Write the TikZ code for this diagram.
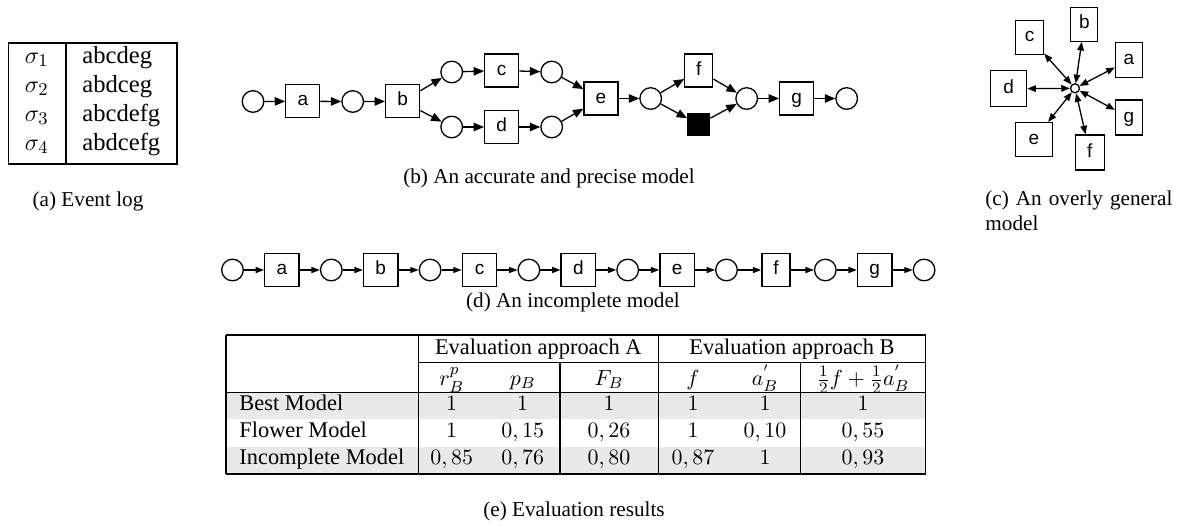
\documentclass[tikz,border=0pt]{standalone}
\usepackage{fontspec}
\setmainfont{Liberation Serif}
\newfontfamily\lsans{Liberation Sans}
\usetikzlibrary{arrows.meta}
\definecolor{rowgray}{RGB}{233,233,233}
\begin{document}
\begin{tikzpicture}[x=0.5pt,y=-0.5pt,
  place/.style={draw,circle,line width=0.65pt,minimum size=10.8pt,inner sep=0pt},
  trans/.style={draw,rectangle,line width=0.65pt,minimum width=17pt,minimum height=16.5pt,inner sep=0pt,
    text height=1ex,text depth=0pt,font=\lsans\fontsize{9.5}{10}\selectfont},
  silent/.style={draw,fill=black,rectangle,line width=0.65pt,minimum width=11pt,minimum height=11pt,inner sep=0pt},
  hub/.style={draw,circle,line width=0.65pt,minimum size=4.5pt,inner sep=0pt},
  arrb/.style={-{Triangle[length=5.2pt,width=4.2pt]},line width=0.65pt},
  arrd/.style={-{Triangle[length=4.2pt,width=3pt]},line width=0.65pt},
  arrc/.style={{Triangle[length=4.3pt,width=3.3pt]}-{Triangle[length=4.3pt,width=3.3pt]},line width=0.65pt},
  captxt/.style={inner sep=0pt,anchor=base,font=\fontsize{10.6}{12.7}\selectfont},
  logtxt/.style={inner sep=0pt,font=\fontsize{12.3}{14}\selectfont},
  tabtxt/.style={inner sep=0pt,anchor=base,font=\fontsize{11.2}{13}\selectfont},
  tabrule/.style={line width=0.6pt}
]
\useasboundingbox (0,0) rectangle (1178,525);

% ---------------- (a) Event log ----------------
\draw[tabrule] (8.3,43) rectangle (177,164);
\draw[tabrule] (66,43) -- (66,164);
\foreach \i/\yy/\tr in {1/63.3/abcdeg,2/92/abdceg,3/121/abcdefg,4/150/abdcefg}{
  \node[logtxt,anchor=base] (s\i) at (36.7,\yy) {$\sigma_\i$};
  \node[logtxt,anchor=base west] (t\i) at (82,\yy) {\tr};
}
\node[captxt] (capa) at (88,206) {(a) Event log};

% ---------------- (b) accurate model ----------------
\node[place] (bp0) at (253,101.5) {};
\node[trans] (ba) at (302.8,101.3) {a};
\node[place] (bp1) at (352.7,101.5) {};
\node[trans] (bb) at (402.7,101.3) {b};
\node[place] (bpu1) at (451.7,72) {};
\node[place] (bpl1) at (451.7,127) {};
\node[trans] (bc) at (501.7,70.5) {c};
\node[trans] (bd) at (501.7,127) {d};
\node[place] (bpu2) at (551.7,72) {};
\node[place] (bpl2) at (551.7,127) {};
\node[trans] (be) at (601,98.5) {e};
\node[place] (bp5) at (650.7,98.5) {};
\node[trans,minimum width=14pt] (bf) at (698.8,70.5) {f};
\node[silent] (btau) at (698.7,124.5) {};
\node[place] (bp6) at (746.7,98.5) {};
\node[trans] (bg) at (796.7,98.5) {g};
\node[place] (bp7) at (846.7,98.5) {};
\draw[arrb] (bp0) -- (ba);
\draw[arrb] (ba) -- (bp1);
\draw[arrb] (bp1) -- (bb);
\draw[arrb] (bb) -- (bpu1);
\draw[arrb] (bb) -- (bpl1);
\draw[arrb] (bpu1) -- (bc);
\draw[arrb] (bpl1) -- (bd);
\draw[arrb] (bc) -- (bpu2);
\draw[arrb] (bd) -- (bpl2);
\draw[arrb] (bpu2) -- (be);
\draw[arrb] (bpl2) -- (be);
\draw[arrb] (be) -- (bp5);
\draw[arrb] (bp5) -- (bf);
\draw[arrb] (bp5) -- (btau);
\draw[arrb] (bf) -- (bp6);
\draw[arrb] (btau) -- (bp6);
\draw[arrb] (bp6) -- (bg);
\draw[arrb] (bg) -- (bp7);
\node[captxt] (capb) at (549,183) {(b) An accurate and precise model};

% ---------------- (c) flower model ----------------
\node[hub] (ch) at (1075,88.3) {};
\node[trans,minimum width=13.5pt,minimum height=17.5pt] (ca) at (1129,60) {a};
\node[trans,minimum width=13.5pt,minimum height=17pt] (cb) at (1084.3,24.2) {b};
\node[trans,minimum width=14pt,minimum height=17pt] (cc) at (1029.5,37.2) {c};
\node[trans,minimum width=18pt,minimum height=18pt] (cd) at (1008.7,88.8) {d};
\node[trans,minimum width=18.5pt,minimum height=17pt] (ce) at (1034,139.5) {e};
\node[trans,minimum width=14.5pt,minimum height=17.5pt] (cf) at (1089.7,152.5) {f};
\node[trans,minimum width=13.5pt,minimum height=17.5pt] (cg) at (1129,117.5) {g};
\foreach \t in {ca,cb,cc,cd,ce,cf,cg}{
  \draw[arrc] (ch) -- (\t);
}
\node[captxt,anchor=base west] (capc1) at (985,205.5) {\makebox[93.5pt][s]{(c) An overly general}};
\node[captxt,anchor=base west] (capc2) at (985,230) {model};

% ---------------- (d) incomplete model ----------------
\node[place] (dp0) at (232.5,270) {};
\foreach \l/\w [count=\k from 0] in {a/17.2,b/17.2,c/17.2,d/17.2,e/17.2,f/14,g/17.2}{
  \pgfmathsetmacro{\xt}{281.9+98.8*\k}
  \pgfmathsetmacro{\xp}{331.3+98.8*\k}
  \node[trans,minimum width=\w pt,minimum height=16.6pt] (d\l) at (\xt,270) {\l};
  \node[place] (dq\l) at (\xp,270) {};
}
\draw[arrd] (dp0) -- (da);
\foreach \l/\m in {a/b,b/c,c/d,d/e,e/f,f/g}{
  \draw[arrd] (d\l) -- (dq\l);
  \draw[arrd] (dq\l) -- (d\m);
}
\draw[arrd] (dg) -- (dqg);
\node[captxt] (capd) at (573,307) {(d) An incomplete model};

% ---------------- (e) evaluation table ----------------
\fill[rowgray] (226,392.7) rectangle (925.7,419.3);
\fill[rowgray] (226,446.7) rectangle (925.7,474);
\draw[tabrule] (226,335) -- (925.7,335);
\draw[tabrule] (418.3,362.7) -- (925.7,362.7);
\draw[tabrule] (226,392.7) -- (925.7,392.7);
\draw[tabrule] (226,474) -- (925.7,474);
\draw[tabrule] (226,335) -- (226,474);
\draw[tabrule] (925.7,335) -- (925.7,474);
\draw[tabrule] (418.3,335) -- (418.3,474);
\draw[tabrule] (658.3,335) -- (658.3,474);
\draw[tabrule] (560,362.7) -- (560,474);
\draw[tabrule] (800.7,362.7) -- (800.7,474);

\node[tabtxt] (hA) at (538.3,354.3) {Evaluation approach A};
\node[tabtxt] (hB) at (792,354.3) {Evaluation approach B};
\node[tabtxt] (h1) at (451.7,385.5) {$r_B^p$};
\node[tabtxt] (h2) at (522.7,385.5) {$p_B$};
\node[tabtxt] (h3) at (609,385.5) {$F_B$};
\node[tabtxt] (h4) at (693,385.5) {$f$};
\node[tabtxt] (h5) at (765,385.5) {$a^{'}_B$};
\node[tabtxt] (h6) at (863,385.5) {$\frac{1}{2}f+\frac{1}{2}a^{'}_B$};

\node[tabtxt,anchor=base west] (r1) at (239,410.7) {Best Model};
\node[tabtxt,anchor=base west] (r2) at (239,437.3) {Flower Model};
\node[tabtxt,anchor=base west] (r3) at (239,464) {Incomplete Model};

\foreach \x/\a/\b/\c [count=\j] in {451.7/1/1/{0,85},522.7/1/{0,15}/{0,76},609/1/{0,26}/{0,80},693/1/1/{0,87},765/1/{0,10}/1,863/1/{0,55}/{0,93}}{
  \node[tabtxt] (va\j) at (\x,410.7) {$\a$};
  \node[tabtxt] (vb\j) at (\x,437.3) {$\b$};
  \node[tabtxt] (vc\j) at (\x,464) {$\c$};
}
\node[captxt] (cape) at (574,516) {(e) Evaluation results};
\end{tikzpicture}
\end{document}
